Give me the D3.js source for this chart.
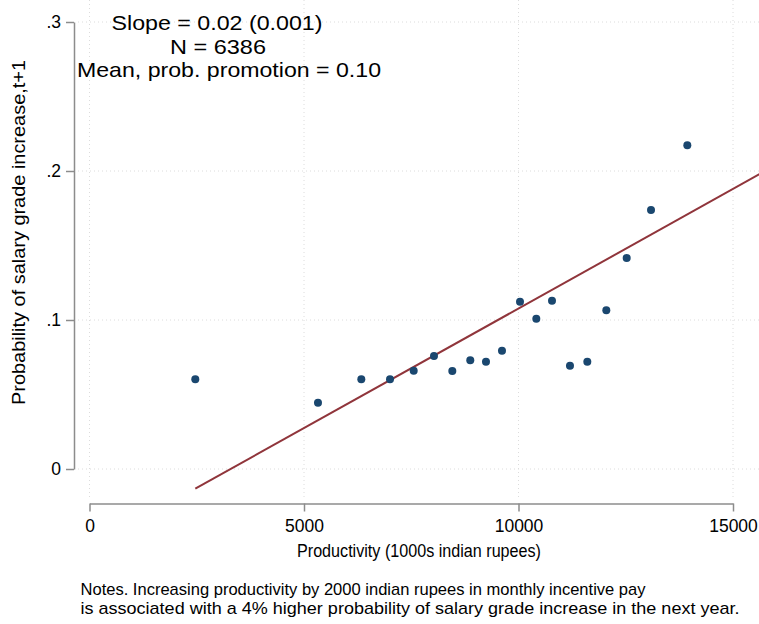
<!DOCTYPE html>
<html>
<head>
<meta charset="utf-8">
<script src="https://cdn.jsdelivr.net/npm/d3@7"></script>
<style>
  body { margin: 0; background: #fff; }
  svg { display: block; }
  text { font-family: "Liberation Sans", Arial, Helvetica, sans-serif; fill: #000; }
</style>
</head>
<body>
<svg id="chart" width="759" height="624"></svg>
<script>
// Binned means: productivity (x) vs probability of a salary grade increase (y)
const productivity = [2466, 5326, 6336, 7005, 7557, 8030, 8457, 8876, 9242, 9615,
                      10035, 10415, 10781, 11200, 11604, 12047, 12522, 13089, 13935];
const probIncrease = [0.0602, 0.0445, 0.0602, 0.0602, 0.0660, 0.0758, 0.0658, 0.0730, 0.0720, 0.0794,
                      0.1123, 0.1009, 0.1130, 0.0693, 0.0720, 0.1065, 0.1416, 0.1738, 0.2172];

// Linear fit (per rupee) and the x span it is drawn over
const fitIntercept = -0.0528;
const fitSlope = 0.00001605;
const fitRange = [2466, 16000];

const xTicks = [0, 5000, 10000, 15000];
const yTicks = [0, 0.1, 0.2, 0.3];
const yTickLabels = ["0", ".1", ".2", ".3"];

const statLines = ["Slope = 0.02 (0.001)", "N = 6386", "Mean, prob. promotion = 0.10"];
const xTitle = "Productivity (1000s indian rupees)";
const yTitle = "Probability of salary grade increase,t+1";
const notes = [
  "Notes. Increasing productivity by 2000 indian rupees in monthly incentive pay",
  "is associated with a 4% higher probability of salary grade increase in the next year."
];

const svg = d3.select("#chart");
const W = 759, H = 624;

const x = d3.scaleLinear().domain([0, 15000]).range([89.5, 733]);
const y = d3.scaleLinear().domain([0, 0.3]).range([469, 22]);

const axisColor = "#8c8c8c";
const gridColor = "#dcdcdc";

// dotted gridlines
const grid = svg.append("g").attr("class", "grid");
grid.selectAll("line.h").data(yTicks).join("line")
  .attr("class", "h")
  .attr("x1", 78).attr("x2", W)
  .attr("y1", d => y(d)).attr("y2", d => y(d))
  .attr("stroke", gridColor).attr("stroke-width", 1)
  .attr("stroke-dasharray", "1 3");
grid.selectAll("line.v").data(xTicks).join("line")
  .attr("class", "v")
  .attr("x1", d => x(d)).attr("x2", d => x(d))
  .attr("y1", 0).attr("y2", 498)
  .attr("stroke", gridColor).attr("stroke-width", 1)
  .attr("stroke-dasharray", "1 3");

// y axis
const yAxis = svg.append("g")
  .attr("transform", "translate(74,0)")
  .call(d3.axisLeft(y).tickValues(yTicks)
    .tickFormat((d, i) => yTickLabels[i])
    .tickSize(8).tickSizeOuter(0).tickPadding(5));
// x axis
const xAxis = svg.append("g")
  .attr("transform", "translate(0,503.5)")
  .call(d3.axisBottom(x).tickValues(xTicks)
    .tickFormat(d3.format("d"))
    .tickSize(8).tickSizeOuter(0).tickPadding(8));

[yAxis, xAxis].forEach(g => {
  g.select(".domain").attr("stroke", axisColor).attr("stroke-width", 1.5);
  g.selectAll(".tick line").attr("stroke", axisColor).attr("stroke-width", 1.5);
  g.selectAll(".tick text")
    .attr("fill", "#000")
    .style("font-size", "17.5px")
    .style("font-family", "\"Liberation Sans\", Arial, Helvetica, sans-serif");
});

// fitted line
svg.append("line")
  .attr("x1", x(fitRange[0])).attr("y1", y(fitIntercept + fitSlope * fitRange[0]))
  .attr("x2", x(fitRange[1])).attr("y2", y(fitIntercept + fitSlope * fitRange[1]))
  .attr("stroke", "#90353b").attr("stroke-width", 2);

// binned scatter points
svg.append("g").selectAll("circle")
  .data(productivity.map((p, i) => [p, probIncrease[i]]))
  .join("circle")
  .attr("cx", d => x(d[0]))
  .attr("cy", d => y(d[1]))
  .attr("r", 4)
  .attr("fill", "#1a476f");

// regression summary in the upper-left corner
const statPos = [[217, 29.5, 211], [218, 53.5, 96], [229, 77, 304]];
svg.append("g").selectAll("text")
  .data(statLines)
  .join("text")
  .attr("x", (d, i) => statPos[i][0])
  .attr("y", (d, i) => statPos[i][1])
  .attr("text-anchor", "middle")
  .attr("textLength", (d, i) => statPos[i][2])
  .attr("lengthAdjust", "spacingAndGlyphs")
  .style("font-size", "21px")
  .text(d => d);

// axis titles
svg.append("text")
  .attr("x", 419).attr("y", 557)
  .attr("text-anchor", "middle")
  .attr("textLength", 244)
  .attr("lengthAdjust", "spacingAndGlyphs")
  .style("font-size", "17.5px")
  .text(xTitle);

svg.append("text")
  .attr("transform", "translate(24.5,232.5) rotate(-90)")
  .attr("text-anchor", "middle")
  .attr("textLength", 345)
  .attr("lengthAdjust", "spacingAndGlyphs")
  .style("font-size", "18.5px")
  .text(yTitle);

// footnote
const noteLen = [565, 659];
svg.append("g").selectAll("text")
  .data(notes)
  .join("text")
  .attr("x", 80.5)
  .attr("y", (d, i) => 595 + i * 19)
  .attr("textLength", (d, i) => noteLen[i])
  .attr("lengthAdjust", "spacingAndGlyphs")
  .style("font-size", "17px")
  .text(d => d);
</script>
</body>
</html>
